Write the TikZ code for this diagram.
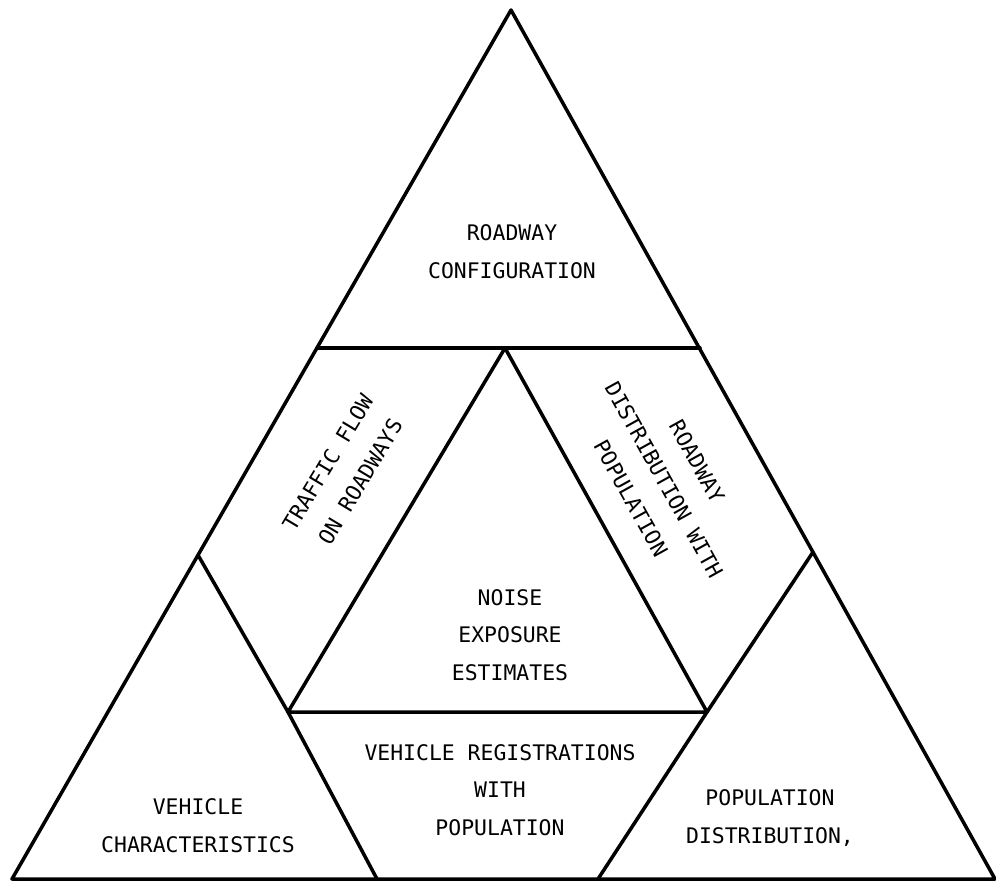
\documentclass[tikz,border=0pt]{standalone}
\usepackage{fontspec}
\newfontfamily\plotfont{DejaVu Sans Mono}
\begin{document}
\begin{tikzpicture}[x=0.02cm,y=-0.02cm,
  edge/.style={line width=2pt,line join=round,line cap=round},
  lbl/.style={align=center,inner sep=0pt,font=\plotfont\fontsize{12.2pt}{21.5pt}\selectfont}]
\useasboundingbox (0,0) rectangle (996,882);
% outer corners
\coordinate (A) at (511,10);
\coordinate (BL) at (12,879);
\coordinate (BR) at (995,879);
% junctions
\coordinate (TL) at (317,348);
\coordinate (TR) at (700,348);
\coordinate (IA) at (505,348);
\coordinate (IL) at (288,712);
\coordinate (IR) at (707,712);
\coordinate (LA) at (198,555);
\coordinate (LB) at (377,879);
\coordinate (RA) at (813,552);
\coordinate (RB) at (598,879);
% lines
\draw[edge] (A) -- (BL) -- (BR) -- cycle;
\draw[edge] (TL) -- (TR);
\draw[edge] (IL) -- (IA) -- (IR) -- cycle;
\draw[edge] (LA) -- (IL) -- (LB);
\draw[edge] (RA) -- (IR) -- (RB);
% labels
\node[lbl] (t1) at (512,252) {ROADWAY\\CONFIGURATION};
\node[lbl] (t2) at (510,635) {NOISE\\EXPOSURE\\ESTIMATES};
\node[lbl] (t3) at (500,790) {VEHICLE REGISTRATIONS\\WITH\\POPULATION};
\node[lbl] (t4) at (198,826) {VEHICLE\\CHARACTERISTICS};
\node[lbl] (t5) at (770,818) {POPULATION\\DISTRIBUTION,};
\node[lbl,rotate=59] (t6) at (344,472) {TRAFFIC FLOW\\ON ROADWAYS};
\node[lbl,rotate=-61] (t7) at (664,480) {ROADWAY\\DISTRIBUTION WITH\\POPULATION};
\end{tikzpicture}
\end{document}
